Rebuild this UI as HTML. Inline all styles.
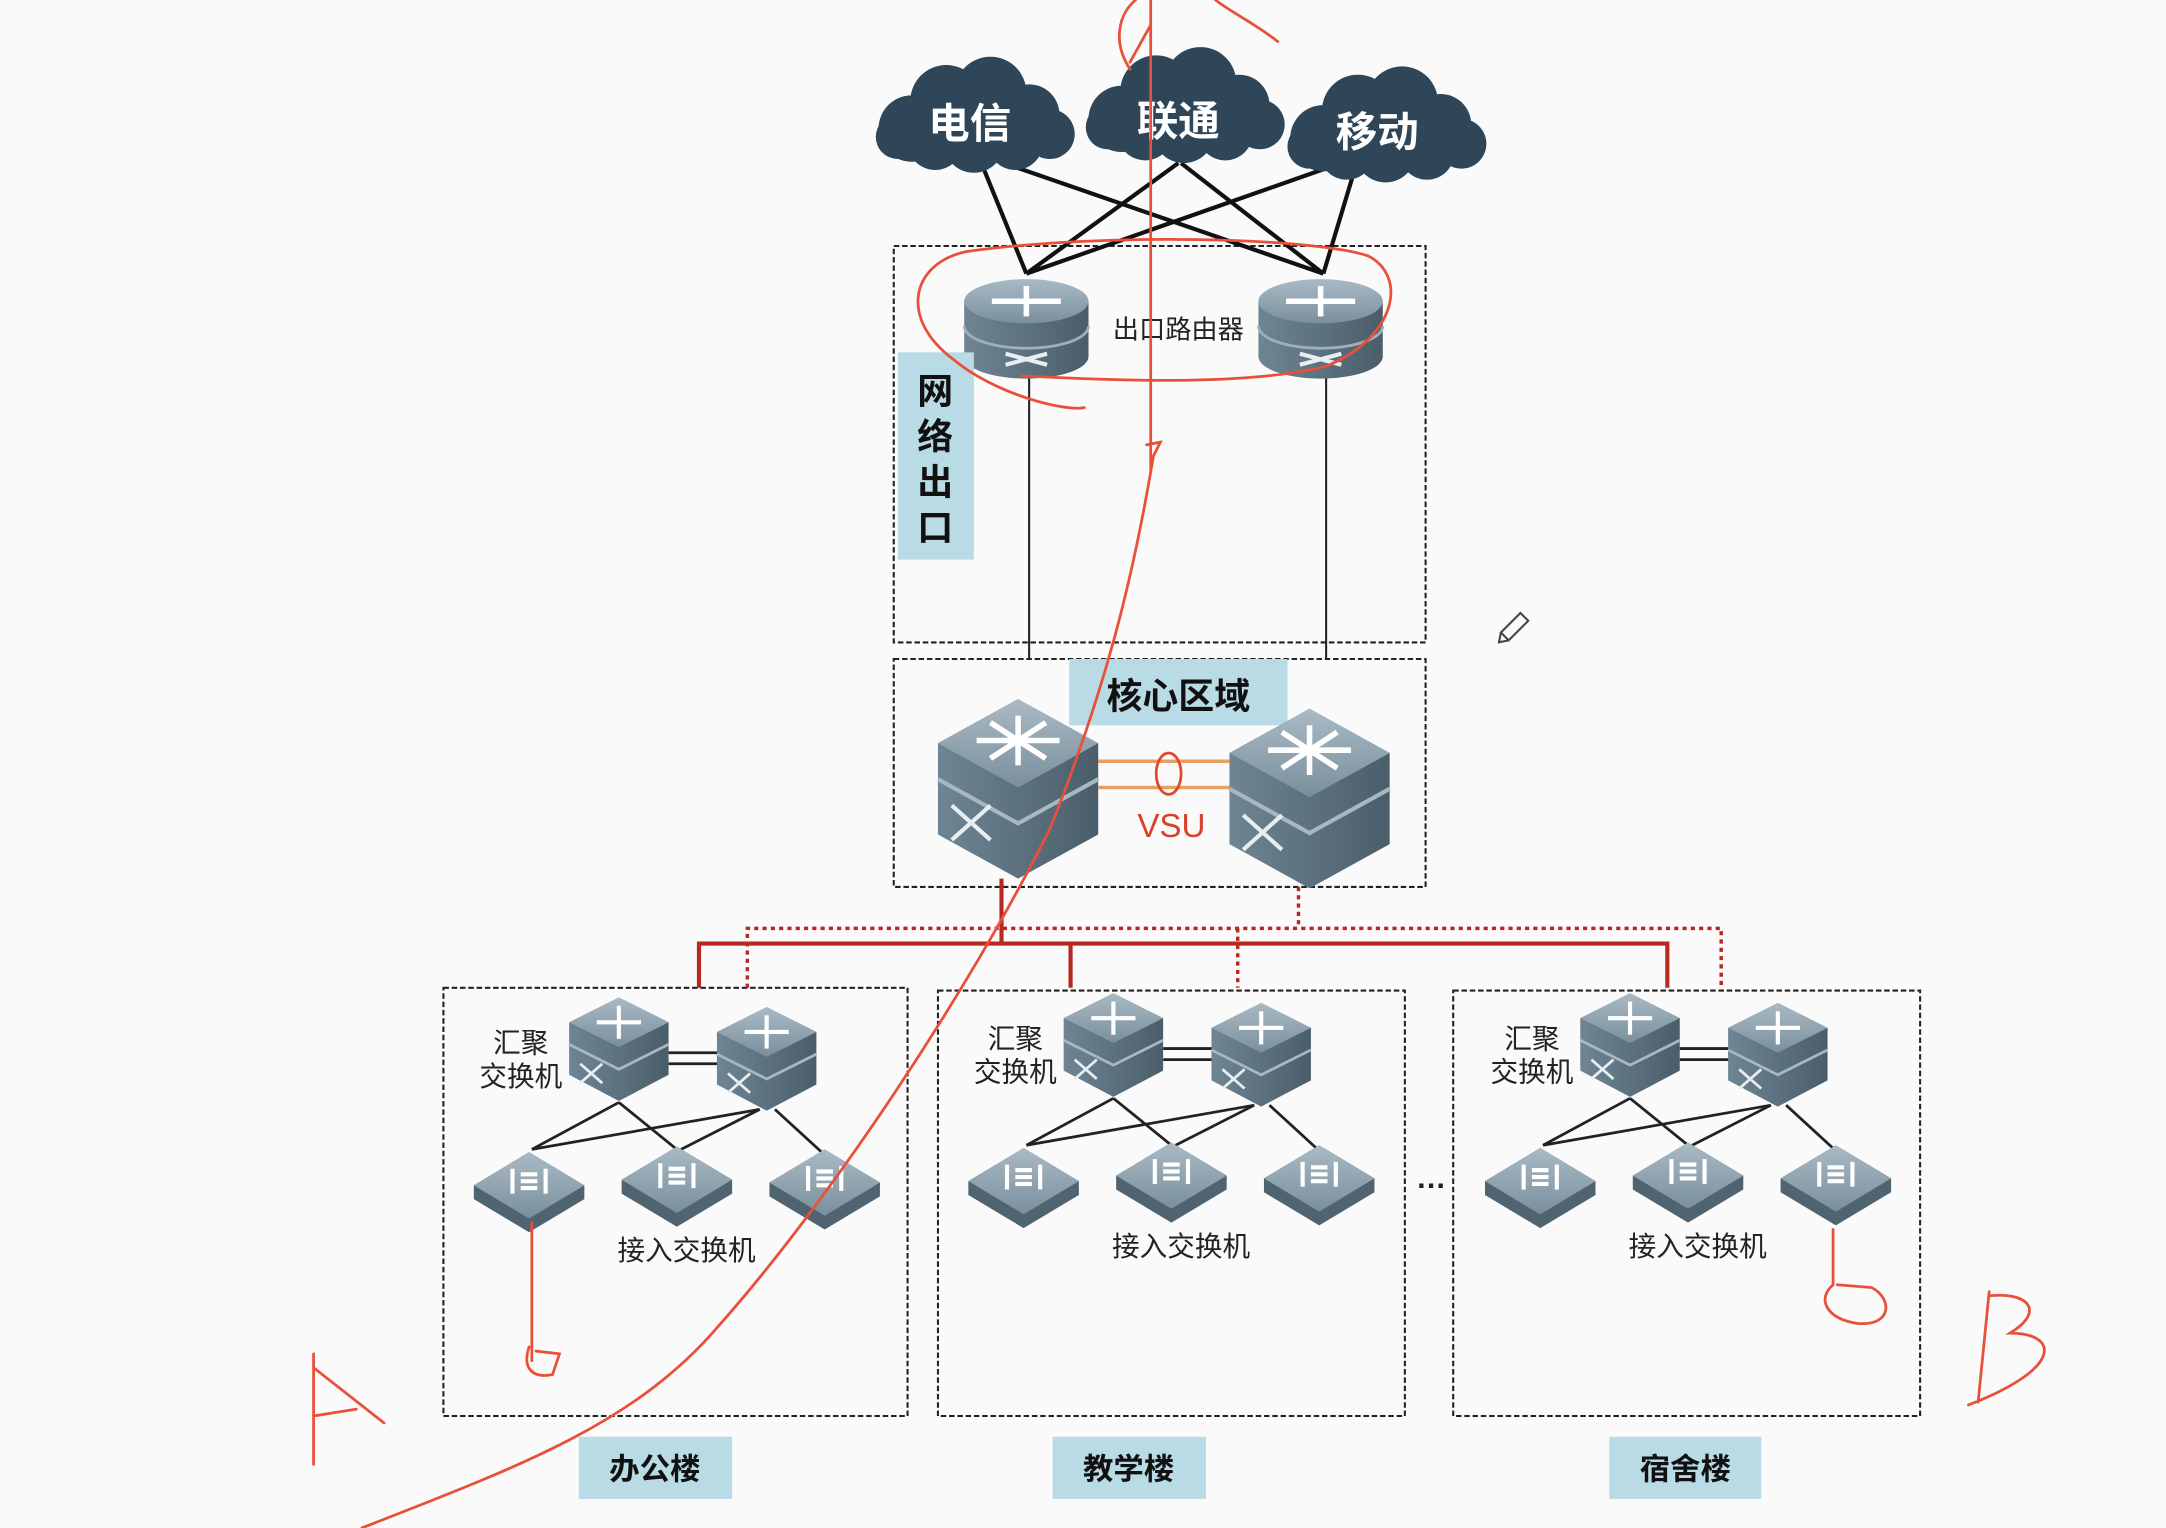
<!DOCTYPE html>
<html><head><meta charset="utf-8"><style>
html,body{margin:0;padding:0;background:#fafafa;}
svg{display:block;}
text{font-family:"Liberation Sans","Noto Sans CJK SC",sans-serif;}
</style></head><body>
<svg width="2166" height="1528" viewBox="0 0 1568 1106" xmlns="http://www.w3.org/2000/svg">
<defs>
<linearGradient id="gs" x1="0" x2="1"><stop offset="0" stop-color="#6f8594"/><stop offset="1" stop-color="#4a5d6a"/></linearGradient>
<linearGradient id="gt" x1="0" y1="0" x2="0" y2="1"><stop offset="0" stop-color="#a9bac5"/><stop offset="1" stop-color="#7a8f9d"/></linearGradient>
<g id="cloud" fill="#2e4658">
<circle cx="-45" cy="8" r="24"/><circle cx="-20" cy="-12" r="26"/><circle cx="12" cy="-18" r="26"/><circle cx="40" cy="-2" r="22"/><circle cx="55" cy="12" r="18"/><circle cx="-55" cy="14" r="16"/><circle cx="0" cy="18" r="22"/><circle cx="-28" cy="18" r="20"/><circle cx="30" cy="18" r="20"/>
</g>
<g id="router">
<path d="M-45,0 L-45,40 A45,16 0 0 0 45,40 L45,0 Z" fill="url(#gs)"/>
<ellipse cx="0" cy="0" rx="45" ry="16" fill="url(#gt)"/>
<path d="M-45,18 A45,16 0 0 0 45,18" fill="none" stroke="#9fb0bb" stroke-width="2"/>
<path d="M-25,0 H25 M0,-11 V11" stroke="#fff" stroke-width="4"/>
<path d="M-15,38 L15,46 M-15,46 L15,38" stroke="#e6eef2" stroke-width="3"/>
</g>
<g id="core">
<path d="M-58,-30 L0,-62 L58,-30 L58,36 L0,68 L-58,36 Z" fill="url(#gs)"/>
<path d="M-58,-30 L0,-62 L58,-30 L0,2 Z" fill="url(#gt)"/>
<path d="M-58,-4 L0,28 L58,-4" fill="none" stroke="#a7b8c3" stroke-width="3"/>
<path d="M-30,-32 L30,-32 M0,-50 V-14 M-20,-45 L20,-19 M20,-45 L-20,-19" stroke="#fff" stroke-width="4"/>
<path d="M-48,15 L-20,40 M-48,40 L-20,15" stroke="#e6eef2" stroke-width="3"/>
</g>
<g id="agg">
<path d="M-36,-20 L0,-38 L36,-20 L36,18 L0,37 L-36,18 Z" fill="url(#gs)"/>
<path d="M-36,-20 L0,-38 L36,-20 L0,-2 Z" fill="url(#gt)"/>
<path d="M-36,-4 L0,14 L36,-4" fill="none" stroke="#a7b8c3" stroke-width="2"/>
<path d="M-16,-20 H16 M0,-32 V-8" stroke="#fff" stroke-width="3"/>
<path d="M-28,10 L-12,24 M-28,24 L-12,10" stroke="#e6eef2" stroke-width="2"/>
</g>
<g id="acc">
<path d="M-40,-4 L0,-28 L40,-4 L40,6 L0,30 L-40,6 Z" fill="#4f6371"/>
<path d="M-40,-4 L0,-28 L40,-4 L0,20 Z" fill="url(#gt)"/>
<path d="M-12,-16 V2 M12,-16 V2 M-6,-12 H6 M-6,-7 H6 M-6,-2 H6" stroke="#fff" stroke-width="3"/>
</g>
<g id="bld">
<path d="M448,798 L385,832 M448,798 L490,832 M550,803 L385,832 M550,803 L493,832 M561,803 L597,836 M484,762 H520 M484,770 H520" stroke="#222" stroke-width="2" fill="none"/>
<use href="#agg" x="448" y="760"/>
<use href="#agg" x="555" y="767"/>
<use href="#acc" x="383" y="862"/>
<use href="#acc" x="490" y="858"/>
<use href="#acc" x="597" y="860"/>
<text x="377" y="762" font-size="20" text-anchor="middle" fill="#222">汇聚</text>
<text x="377" y="786" font-size="20" text-anchor="middle" fill="#222">交换机</text>
<text x="497" y="912" font-size="20" text-anchor="middle" fill="#222">接入交换机</text>
</g>
</defs>

<!-- boxes -->
<g fill="none" stroke="#222" stroke-width="1.5" stroke-dasharray="4,2">
<rect x="647" y="178" width="385" height="287"/>
<rect x="647" y="477" width="385" height="165"/>
<rect x="321" y="715" width="336" height="310"/>
<rect x="679" y="717" width="338" height="308"/>
<rect x="1052" y="717" width="338" height="308"/>
</g>

<!-- cloud links -->
<g stroke="#111" stroke-width="3">
<path d="M708,112 L743,198 M718,115 L958,198 M853,118 L743,198 M855,118 L958,198 M965,120 L743,198 M980,125 L958,198"/>
</g>
<g stroke="#222" stroke-width="1.5"><path d="M745,270 V477 M960,270 V477"/></g>

<use href="#cloud" x="705" y="85"/>
<use href="#cloud" x="857" y="78"/>
<use href="#cloud" x="1003" y="92"/>
<text x="702" y="100" font-size="30" font-weight="bold" fill="#fff" text-anchor="middle">电信</text>
<text x="853" y="98" font-size="30" font-weight="bold" fill="#fff" text-anchor="middle">联通</text>
<text x="997" y="106" font-size="30" font-weight="bold" fill="#fff" text-anchor="middle">移动</text>

<use href="#router" x="743" y="218"/>
<use href="#router" x="956" y="218"/>
<text x="853" y="245" font-size="19" fill="#222" text-anchor="middle">出口路由器</text>

<rect x="650" y="255" width="55" height="150" fill="#b9dbe6"/>
<text font-size="26" font-weight="bold" fill="#111" text-anchor="middle"><tspan x="677" y="292">网</tspan><tspan x="677" y="325">络</tspan><tspan x="677" y="358">出</tspan><tspan x="677" y="391">口</tspan></text>

<rect x="774" y="477" width="158" height="48" fill="#b9dbe6"/>
<text x="853" y="513" font-size="26" font-weight="bold" fill="#111" text-anchor="middle">核心区域</text>

<g stroke="#e8a060" stroke-width="2.5"><path d="M795,551 H893 M795,570 H893"/></g>
<ellipse cx="846" cy="560" rx="9" ry="15" fill="none" stroke="#e04a2a" stroke-width="2"/>
<text x="848" y="606" font-size="24" fill="#d9402a" text-anchor="middle">VSU</text>
<use href="#core" x="737" y="568"/>
<use href="#core" x="948" y="575"/>

<!-- red links -->
<g stroke="#b8281e" stroke-width="3" fill="none">
<path d="M725,636 V683 M506,715 V683 H1207 V715 M775,683 V715"/>
</g>
<g stroke="#b8281e" stroke-width="2.5" fill="none" stroke-dasharray="3,3">
<path d="M940,642 V672 M541,715 V672 H1246 V715 M896,672 V715"/>
</g>

<use href="#bld"/>
<use href="#bld" x="358" y="-3"/>
<use href="#bld" x="732" y="-3"/>
<text x="1036" y="860" font-size="22" font-weight="bold" fill="#222" text-anchor="middle">…</text>

<rect x="419" y="1040" width="111" height="45" fill="#b9dbe6"/>
<rect x="762" y="1040" width="111" height="45" fill="#b9dbe6"/>
<rect x="1165" y="1040" width="110" height="45" fill="#b9dbe6"/>
<g font-size="22" font-weight="bold" fill="#111" text-anchor="middle">
<text x="474" y="1071">办公楼</text><text x="817" y="1071">教学楼</text><text x="1220" y="1071">宿舍楼</text>
</g>

<!-- hand annotations -->
<g stroke="#e8503a" stroke-width="2" fill="none" stroke-linecap="round">
<path d="M262,1106 C380,1060 460,1030 520,960 C600,870 700,720 760,600 C800,500 820,420 835,330 L840,320 L830,322"/>
<path d="M833,340 L833,0"/>
<path d="M818,50 C805,30 810,10 822,0 M833,18 L818,45"/>
<path d="M880,0 C890,8 910,18 925,30"/>
<path d="M700,182 C660,190 650,230 690,260 C720,285 770,298 785,295 M740,272 C800,275 900,280 960,265 C1010,245 1020,200 990,185 C950,172 800,168 700,182"/>
<path d="M385,885 V985 M383,975 C378,990 385,998 400,995 L405,980 L388,978"/>
<path d="M1327,890 V930 C1315,940 1322,955 1345,958 C1370,960 1370,940 1355,932 L1330,930"/>
<path d="M227,980 V1060 M227,990 L278,1030 M227,1025 L258,1020"/>
<path d="M1440,935 L1432,1015 M1440,938 C1470,935 1480,950 1455,965 C1490,965 1495,990 1425,1017"/>
</g>
<g transform="translate(1095,455) rotate(45)"><rect x="-4" y="-12" width="8" height="20" fill="none" stroke="#444" stroke-width="1.5"/><path d="M-4,8 L0,14 L4,8" fill="none" stroke="#444" stroke-width="1.5"/></g>
</svg>
</body></html>
